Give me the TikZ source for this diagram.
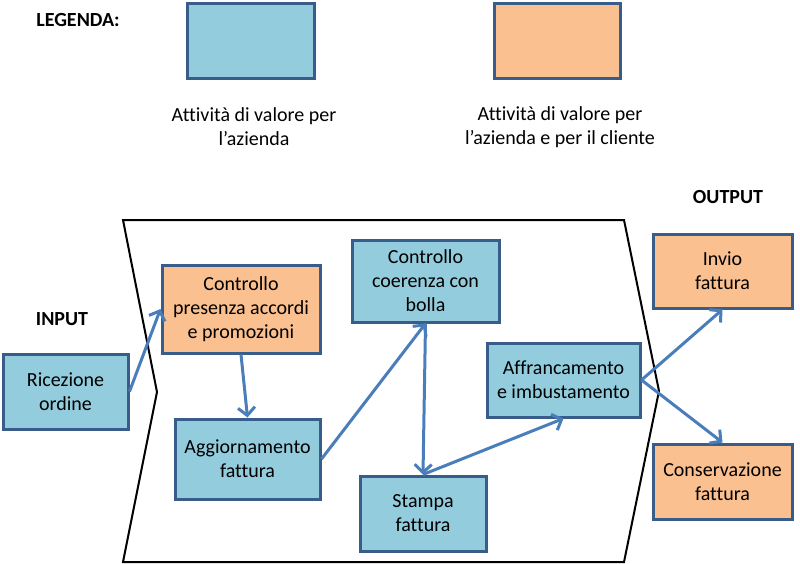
\documentclass[tikz,border=0pt]{standalone}
\usepackage{fontspec}
\setmainfont[Ligatures=NoCommon]{Carlito}
\definecolor{BoxBlue}{RGB}{147,205,221}
\definecolor{BoxOrange}{RGB}{250,192,144}
\definecolor{BoxBorder}{RGB}{56,93,138}
\definecolor{ArrowBlue}{RGB}{74,126,187}
\usetikzlibrary{arrows.meta}

\begin{document}
\begin{tikzpicture}[x=1pt, y=-1pt, font=\fontsize{20}{24}\selectfont,
	fl/.style={-{Straight Barb[length=8pt, width=17pt]}, line width=3pt, ArrowBlue},
	az/.style={rectangle, draw=BoxBorder, line width=3pt, fill=BoxBlue, align=center, inner sep=0pt},
	cl/.style={az, fill=BoxOrange},
	tit/.style={font=\fontsize{20}{24}\selectfont\bfseries}]
	\useasboundingbox (0,0) rectangle (800,564);

	% ---------- legenda ----------
	\node[tit] (leg) at (78,20) {LEGENDA:};
	\node[az, minimum width=127pt, minimum height=75pt] (legaz) at (250.5,41.5) {};
	\node[cl, minimum width=126pt, minimum height=75pt] (legcl) at (557,41.5) {};
	\node[align=center] (txtaz) at (254,127) {Attività di valore per\\l’azienda};
	\node[align=center] (txtcl) at (560,127) {Attività di valore per\\l’azienda e per il cliente};

	% ---------- processo ----------
	\draw[line width=2pt, line join=miter] (123,220) -- (624,220) -- (659,391) -- (624,562)
		-- (123,562) -- (157,392) -- cycle;
	\node[tit] (inp) at (62,319) {INPUT};
	\node[tit] (outp) at (728,197) {OUTPUT};

	\node[az, minimum width=125pt, minimum height=75pt] (ric) at (65.5,391.5) {Ricezione\\ordine};
	\node[cl, minimum width=158pt, minimum height=88pt] (pres) at (241,309) {Controllo\\presenza accordi\\e promozioni};
	\node[az, minimum width=145pt, minimum height=80pt] (agg) at (247.5,459) {Aggiornamento\\fattura};
	\node[az, minimum width=147pt, minimum height=82pt] (coe) at (425.5,281) {Controllo\\coerenza con\\bolla};
	\node[az, minimum width=126pt, minimum height=75pt] (sta) at (423,513.5) {Stampa\\fattura};
	\node[az, minimum width=153pt, minimum height=74pt] (aff) at (563.5,380) {Affrancamento\\e imbustamento};
	\node[cl, minimum width=139pt, minimum height=74pt] (inv) at (722.5,271) {Invio\\fattura};
	\node[cl, minimum width=139pt, minimum height=75pt] (con) at (722.5,481.5) {Conservazione\\fattura};

	% ---------- flusso ----------
	\draw[fl] (ric.east) -- (pres.west);
	\draw[fl] (pres.south) -- (agg.north);
	\draw[fl] (agg.east) -- (coe.south);
	\draw[fl] (coe.south) -- (sta.north);
	\draw[fl] (sta.north) -- (aff.south);
	\foreach \o in {inv.south, con.north}{
		\draw[fl] (aff.east) -- (\o);
	}
\end{tikzpicture}
\end{document}
